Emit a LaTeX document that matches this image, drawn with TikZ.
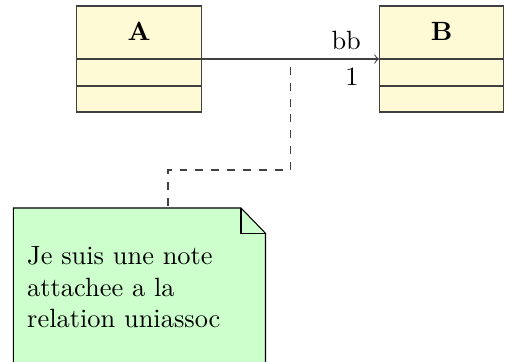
\documentclass[tikz,border=0pt]{standalone}
\definecolor{classfill}{RGB}{255,250,214}
\definecolor{notefill}{RGB}{204,255,204}
\tikzset{
  umlclass/.style={draw=black!75,fill=classfill,minimum width=47pt,minimum height=40.15pt,inner sep=0pt},
  compart/.style={draw=black!75},
  notelink/.style={draw=black!75,dashed,dash phase=3pt},
}
\begin{document}
\begin{tikzpicture}[x=0.3788pt,y=-0.3788pt]
\clip (0,0) rectangle (506,362);
% the two classes
\node[umlclass] (A) at (139,59) {};
\node[umlclass] (B) at (441.6,59) {};
\node (Aname) at (139,31.5) {\textbf{A}};
\node (Bname) at (441.6,31.5) {\textbf{B}};
\draw[compart] (A.west) -- (A.east) (77,86)--(201,86);
\draw[compart] (B.west) -- (B.east) (379.3,86)--(504,86);
% uniassoc
\draw[->,draw=black!75] (A) -- (B) node[pos=.815,above] (bbrole) {bb}
  node[pos=.848,below] (bbmult) {1} coordinate[midway] (rel);
% the note
\draw[draw=black,fill=notefill] (13.3,208) -- (241,208) -- (265.5,233.3) -- (265.5,380) -- (13.3,380) -- cycle;
\draw (241,208) -- (241,233.3) -- (265.5,233.3);
\node[anchor=north west,inner sep=0pt,align=left] (note) at (26.7,246)
  {Je suis une note\\attachee a la\\relation uniassoc};
\coordinate (bend) at (168,170);
\coordinate (notetop) at (168,208);
\draw[notelink] (rel) |- (bend) -- (notetop);
\end{tikzpicture}
\end{document}
